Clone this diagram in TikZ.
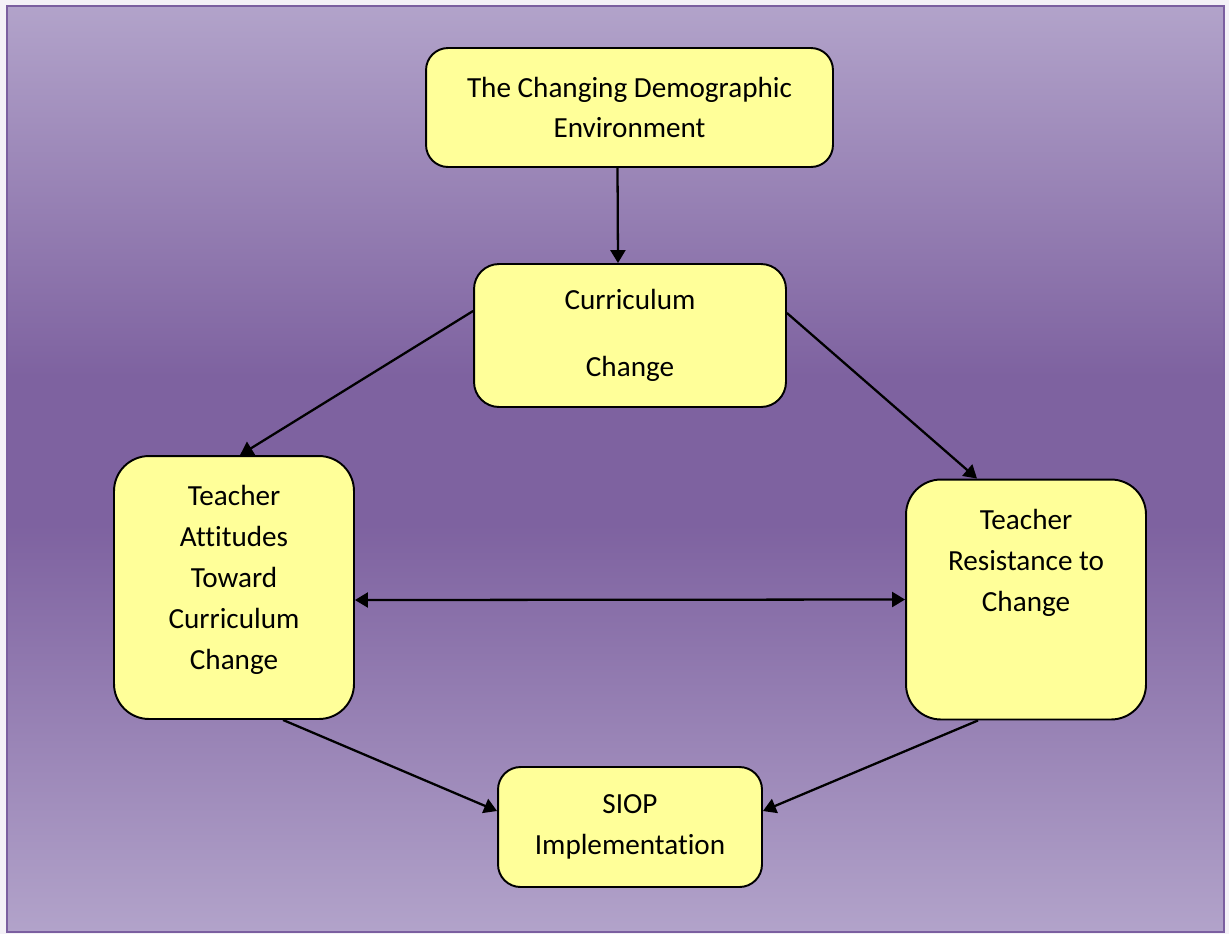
\documentclass[tikz,border=0pt]{standalone}
\usepackage{fontspec}
\setmainfont{Carlito}[Ligatures=NoCommon]
\usetikzlibrary{arrows.meta}
\definecolor{bglight}{HTML}{B2A3CA}
\definecolor{bgdark}{HTML}{7E62A0}
\definecolor{framecol}{HTML}{7B5FA0}
\definecolor{boxfill}{HTML}{FFFF99}
\pgfdeclareverticalshading{bgshade}{100bp}{color(0bp)=(bglight); color(25bp)=(bglight); color(47bp)=(bgdark); color(55bp)=(bgdark); color(75bp)=(bglight); color(100bp)=(bglight)}
\newcommand{\toptext}[2]{\parbox[c][#1][t]{4.6cm}{\centering\strut #2}}
\begin{document}
\begin{tikzpicture}[x=0.02cm, y=-0.02cm,
  box/.style={draw=black, line width=1.1pt, fill=boxfill, align=center,
    font=\fontsize{16.6}{23.3}\selectfont, inner sep=0pt},
  link/.style={line width=1.3pt, -{Triangle[length=0.26cm, width=0.3cm]}}]
\useasboundingbox (0,0) rectangle (1229,934);
\fill[white!85!bglight] (0,0) rectangle (1229,934);
\draw[framecol, line width=1.2pt, shading=bgshade] (7,6) rectangle (1224,932);
% boxes
\node[box, rounded corners=0.44cm, minimum width=8.14cm, minimum height=2.38cm] (demog) at (629.5,107.5)
  {The Changing Demographic\\Environment};
\node[box, rounded corners=0.5cm, minimum width=6.24cm, minimum height=2.86cm] (curric) at (630,335.5)
  {Curriculum\\[15pt]Change};
\node[box, rounded corners=0.7cm, minimum width=4.8cm, minimum height=5.26cm] (attit) at (234,587.5)
  {\toptext{4.42cm}{Teacher\\Attitudes\\Toward\\Curriculum\\Change}};
\node[box, rounded corners=0.7cm, minimum width=4.8cm, minimum height=4.8cm] (resist) at (1026,599.5)
  {\toptext{3.96cm}{Teacher\\Resistance to\\Change}};
\node[box, rounded corners=0.45cm, minimum width=5.28cm, minimum height=2.4cm] (siop) at (630,827)
  {SIOP\\Implementation};
% arrows
\draw[link] ([xshift=-0.24cm]demog.south) -- ([xshift=-0.24cm]curric.north);
\draw[link] ([yshift=0.49cm]curric.west) -- ([xshift=0.12cm]attit.north);
\draw[link] ([yshift=0.45cm]curric.east) -- ([xshift=-0.98cm]resist.north);
\draw[link, {Triangle[length=0.26cm, width=0.3cm]}-{Triangle[length=0.26cm, width=0.3cm]}] ([yshift=-0.25cm]attit.east) -- (resist.west);
\draw[link] ([xshift=0.98cm]attit.south) -- ([yshift=0.32cm]siop.west);
\draw[link] ([xshift=-0.96cm]resist.south) -- ([yshift=0.32cm]siop.east);
\end{tikzpicture}
\end{document}
